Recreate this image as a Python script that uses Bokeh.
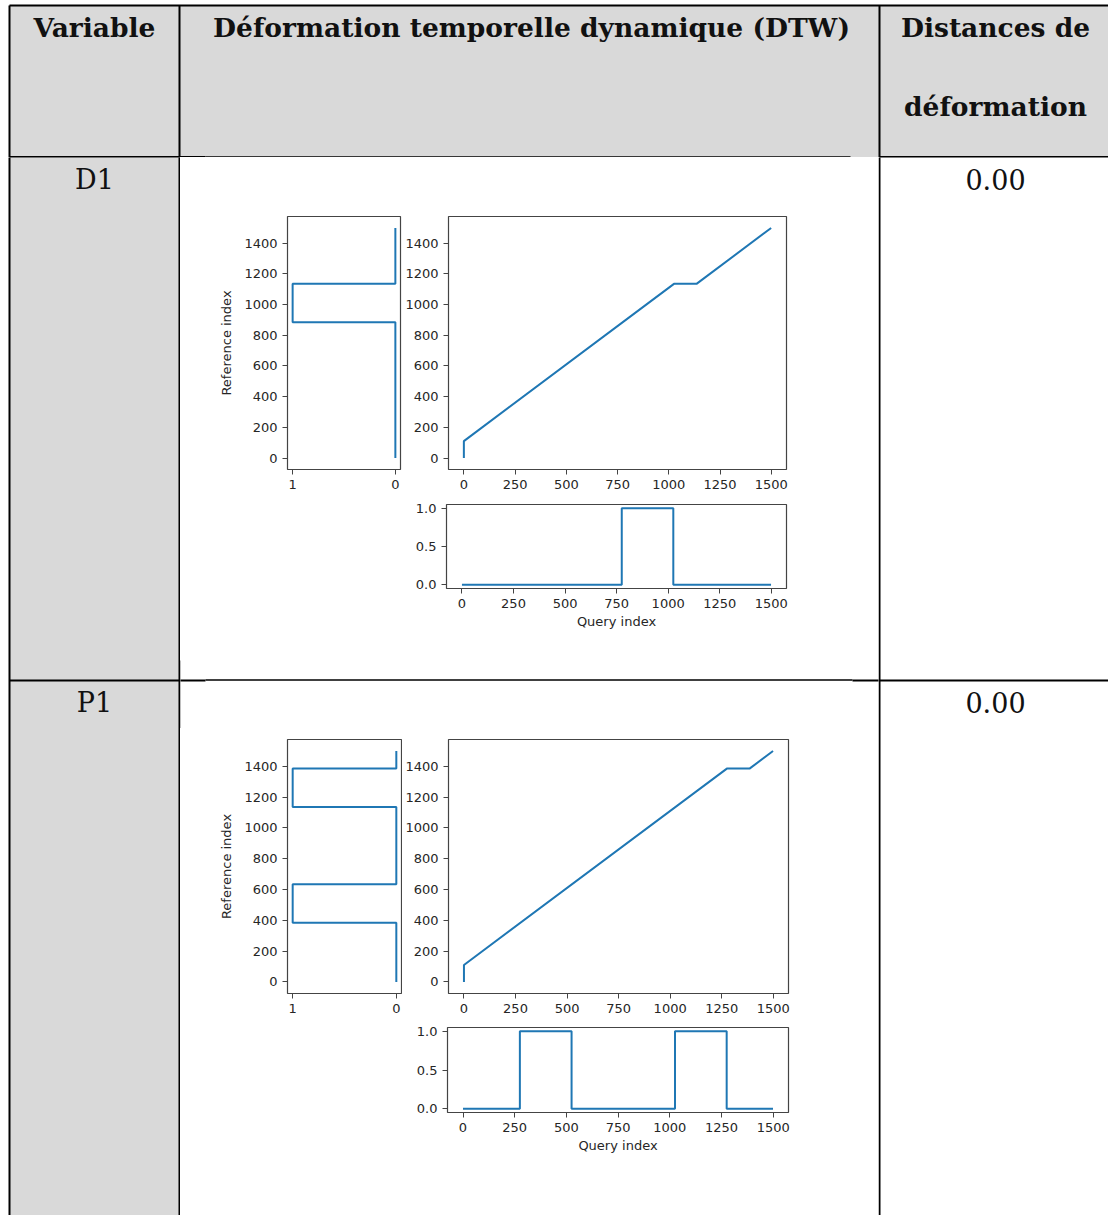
from bokeh.plotting import figure
from bokeh.models import Range1d, FixedTicker, PrintfTickFormatter, Spacer
from bokeh.layouts import row, column
from bokeh.core.properties import value
from bokeh.embed import file_html
from bokeh.resources import INLINE

# ---------------- table content ----------------
header_labels = ["Variable", "Déformation temporelle dynamique (DTW)", "Distances de", "déformation"]
variables = ["D1", "P1"]
distances = [0.00, 0.00]

# ---------------- tick labels ----------------
reference_ticks = [0, 200, 400, 600, 800, 1000, 1200, 1400]
query_ticks = [0, 250, 500, 750, 1000, 1250, 1500]
value_ticks = [0.0, 0.5, 1.0]
marginal_ticks = [0, 1]

# ---------------- D1 series ----------------
d1_query_index = [0, 775, 775, 1025, 1025, 1499]
d1_query_value = [0, 0, 1, 1, 0, 0]
d1_reference_index = [0, 885, 885, 1135, 1135, 1499]
d1_reference_value = [0, 0, 1, 1, 0, 0]
d1_path_query = [0, 0, 1025, 1135, 1499]
d1_path_reference = [0, 110, 1135, 1135, 1499]

# ---------------- P1 series ----------------
p1_query_index = [0, 275, 275, 525, 525, 1025, 1025, 1275, 1275, 1499]
p1_query_value = [0, 0, 1, 1, 0, 0, 1, 1, 0, 0]
p1_reference_index = [0, 385, 385, 635, 635, 1135, 1135, 1385, 1385, 1499]
p1_reference_value = [0, 0, 1, 1, 0, 0, 1, 1, 0, 0]
p1_path_query = [0, 0, 1275, 1385, 1499]
p1_path_reference = [0, 110, 1385, 1385, 1499]

# ---------------- page geometry (pixels) ----------------
PAGE_W, PAGE_H = 1108, 1215
HEADER_H = 157
X_SPLIT = [0, 180, 402, 800, 878, PAGE_W]   # left strip | marginal | main | filler | right strip
Y_MID = [HEADER_H, 200, 495, 660, 728, 1019, PAGE_H]

SERIF = "DejaVu Serif"
SANS = "DejaVu Sans"
GREY = "#d9d9d9"
LINE_BLUE = "#1f77b4"
SPINE = "#444444"
TICK_TXT = "#262626"
INK = "#111111"

# table cell geometry
grey_left = [9, 179]
grey_right = [179, PAGE_W]
grey_top = [5, 5]
grey_bottom = [PAGE_H, 156.5]

seg_x0 = [9, 9, 179, 879, 9, 205, 879, 9, 205, 852]
seg_y0 = [5, 5, 5, 5, 156.5, 156.5, 156.5, 680, 679.5, 680]
seg_x1 = [9, PAGE_W, 179, 879, 205, 850, PAGE_W, 205, 852, PAGE_W]
seg_y1 = [PAGE_H, 5, PAGE_H, PAGE_H, 156.5, 156.5, 156.5, 680, 679.5, 680]
seg_w = [2, 2, 2, 2, 2, 1.5, 2, 2, 1.5, 2]

# table texts: (x, baseline, text, bold)
table_texts = [(94, 27, header_labels[0], True), (531, 27, header_labels[1], True),
               (995, 27, header_labels[2], True), (995, 106, header_labels[3], True)]
row_baselines = [179, 702]
for name, dist, base in zip(variables, distances, row_baselines):
    table_texts.append((94, base, name, False))
    table_texts.append((995, base, "%.2f" % dist, False))


def table_piece(x0, x1, y0, y1):
    f = figure(width=x1 - x0, height=y1 - y0, x_range=Range1d(x0, x1),
               y_range=Range1d(y1, y0), toolbar_location=None, output_backend="svg",
               x_axis_location=None, y_axis_location=None, min_border=0)
    f.outline_line_color = None
    f.background_fill_color = "white"
    f.border_fill_color = "white"
    f.xgrid.visible = False
    f.ygrid.visible = False
    f.quad(left=grey_left, right=grey_right, top=grey_top, bottom=grey_bottom,
           fill_color=GREY, line_color=None)
    f.segment(x0=seg_x0, y0=seg_y0, x1=seg_x1, y1=seg_y1, line_width=seg_w,
              line_color="black")
    for bold in (True, False):
        sel = [t for t in table_texts if t[3] == bold and x0 <= t[0] < x1 and y0 <= t[1] < y1]
        if sel:
            f.text(x=[t[0] for t in sel], y=[t[1] for t in sel], text=[t[2] for t in sel],
                   text_font=value(SERIF), text_font_style="bold" if bold else "normal",
                   text_font_size="26.5px" if bold else "27px", text_align="center",
                   text_baseline="alphabetic", text_color=INK)
    return f


def padded(lo, hi, frac=0.05):
    pad = (hi - lo) * frac
    return lo - pad, hi + pad


def style(fig, xticks, yticks, yfmt=None):
    fig.background_fill_color = "white"
    fig.border_fill_color = "white"
    fig.outline_line_color = SPINE
    fig.outline_line_width = 1.2
    fig.xgrid.visible = False
    fig.ygrid.visible = False
    fig.xaxis.ticker = FixedTicker(ticks=xticks)
    fig.yaxis.ticker = FixedTicker(ticks=yticks)
    if yfmt:
        fig.yaxis.formatter = yfmt
    for ax in fig.axis:
        ax.axis_line_color = None
        ax.major_tick_line_color = SPINE
        ax.major_tick_line_width = 1
        ax.major_tick_out = 5
        ax.major_tick_in = 0
        ax.minor_tick_line_color = None
        ax.major_label_text_font = SANS
        ax.major_label_text_font_size = "13px"
        ax.major_label_text_color = TICK_TXT
        ax.axis_label_text_font = SANS
        ax.axis_label_text_font_size = "13px"
        ax.axis_label_text_font_style = "normal"
        ax.axis_label_text_color = TICK_TXT
    fig.xaxis.major_label_standoff = 5
    fig.yaxis.major_label_standoff = 5


def make_fig(w, h, borders, xr, yr):
    l, r, t, b = borders
    return figure(width=w, height=h, x_range=Range1d(*xr), y_range=Range1d(*yr),
                  toolbar_location=None, output_backend="svg",
                  min_border_left=l, min_border_right=r, min_border_top=t,
                  min_border_bottom=b)


def dtw_panels(q_idx, q_val, r_idx, r_val, path_q, path_r, geo):
    (lw, lh, lb), (mw, mh, mb), (bw, bh, bb) = geo
    idx_range = padded(min(q_idx), max(q_idx))
    ref_range = padded(min(r_idx), max(r_idx))
    val_range = padded(min(q_val), max(q_val))

    # reference signal, drawn sideways (value axis reversed: 1 left, 0 right)
    left = make_fig(lw, lh, lb, (val_range[1], val_range[0]), ref_range)
    left.line(x=r_val, y=r_idx, line_color=LINE_BLUE, line_width=2)
    style(left, marginal_ticks, reference_ticks)
    left.yaxis.axis_label = "Reference index"
    left.yaxis.axis_label_standoff = 7

    main = make_fig(mw, mh, mb, idx_range, ref_range)
    main.line(x=path_q, y=path_r, line_color=LINE_BLUE, line_width=2)
    style(main, query_ticks, reference_ticks)

    bottom = make_fig(bw, bh, bb, idx_range, val_range)
    bottom.line(x=q_idx, y=q_val, line_color=LINE_BLUE, line_width=2)
    style(bottom, query_ticks, value_ticks, yfmt=PrintfTickFormatter(format="%.1f"))
    bottom.xaxis.axis_label = "Query index"
    bottom.xaxis.axis_label_standoff = 3
    return left, main, bottom


w_left = X_SPLIT[2] - X_SPLIT[1]
w_main = X_SPLIT[3] - X_SPLIT[2]
w_fill = X_SPLIT[4] - X_SPLIT[3]
w_mid = X_SPLIT[4] - X_SPLIT[1]
h = [Y_MID[i + 1] - Y_MID[i] for i in range(len(Y_MID) - 1)]

d1_geo = ((w_left, h[1], (107, 2, 16, 26)), (w_main, h[1], (44, 14, 16, 26)),
          (w_main, h[2], (44, 14, 9, 72)))
p1_geo = ((w_left, h[4], (107, 1, 11, 26)), (w_main, h[4], (45, 12, 11, 26)),
          (w_main, h[5], (45, 12, 8, 103)))

d1_left, d1_main, d1_bottom = dtw_panels(d1_query_index, d1_query_value, d1_reference_index,
                                         d1_reference_value, d1_path_query, d1_path_reference, d1_geo)
p1_left, p1_main, p1_bottom = dtw_panels(p1_query_index, p1_query_value, p1_reference_index,
                                         p1_reference_value, p1_path_query, p1_path_reference, p1_geo)

middle = column(
    Spacer(width=w_mid, height=h[0]),
    row(d1_left, d1_main, Spacer(width=w_fill, height=h[1])),
    row(Spacer(width=w_left, height=h[2]), d1_bottom, Spacer(width=w_fill, height=h[2])),
    table_piece(X_SPLIT[1], X_SPLIT[4], Y_MID[3], Y_MID[4]),
    row(p1_left, p1_main, Spacer(width=w_fill, height=h[4])),
    row(Spacer(width=w_left, height=h[5]), p1_bottom, Spacer(width=w_fill, height=h[5])),
)

layout = column(
    table_piece(0, PAGE_W, 0, HEADER_H),
    row(table_piece(X_SPLIT[0], X_SPLIT[1], HEADER_H, PAGE_H),
        middle,
        table_piece(X_SPLIT[4], X_SPLIT[5], HEADER_H, PAGE_H)),
)

open("out.html", "w").write(file_html(layout, INLINE))
